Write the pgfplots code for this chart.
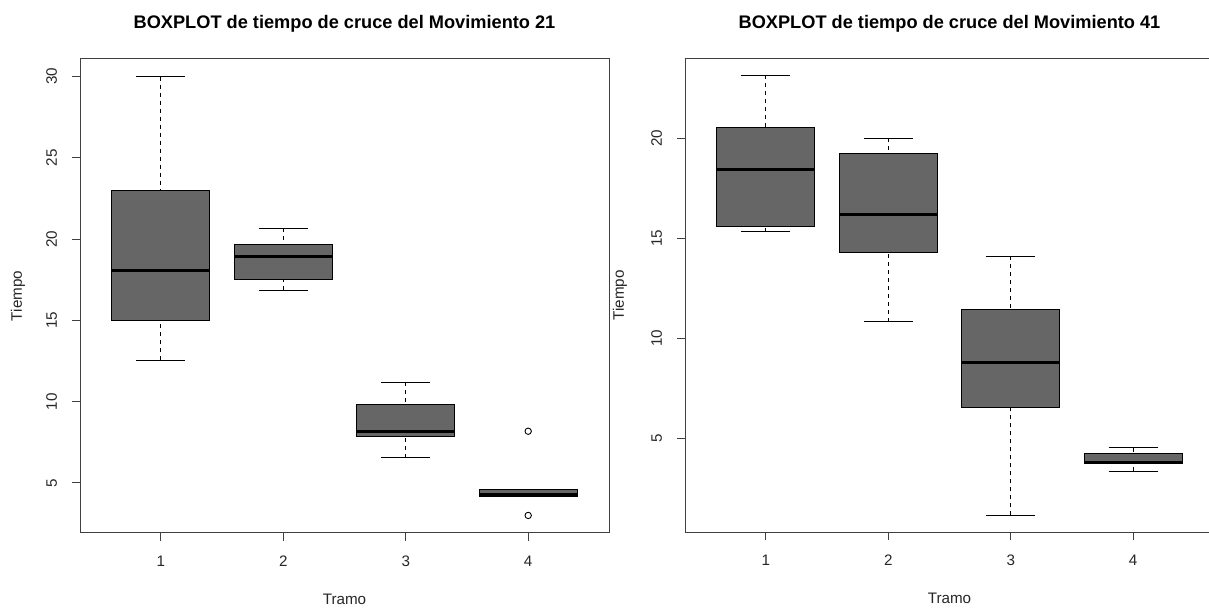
\documentclass[border=0pt]{standalone}
\usepackage{fontspec}
\setmainfont{Liberation Sans}
\usepackage{pgfplots}
\pgfplotsset{compat=1.18}
\usepgfplotslibrary{statistics}
\definecolor{boxgray}{HTML}{666666}
\definecolor{framegray}{HTML}{404040}
\pgfplotsset{
  rbox/.style={
    scale only axis, width=264.5pt, height=237pt,
    xmin=0.34, xmax=4.66,
    xtick={1,2,3,4},
    axis line style={framegray, line width=0.5pt},
    every tick/.style={framegray, line width=0.5pt},
    tick align=outside, major tick length=4pt,
    xtick pos=left, ytick pos=left,
    /pgf/number format/assume math mode=true,
    tick label style={font=\fontsize{7.6}{9}\selectfont, text=black!85},
    yticklabel style={rotate=90, anchor=south},
    xticklabel shift=4pt, yticklabel shift=4pt,
    xlabel style={at={(axis description cs:0.5,-0.1392)}, anchor=center, font=\fontsize{7.6}{9}\selectfont, text=black!85},
    ylabel style={at={(axis description cs:-0.1172,0.5)}, anchor=center, font=\fontsize{7.6}{9}\selectfont, text=black!85},
    title style={font=\bfseries\fontsize{9.1}{11}\selectfont, at={(axis description cs:0.5,1.0485)}, anchor=center, yshift=0pt},
    xlabel={Tramo}, ylabel={Tiempo},
    boxplot/draw direction=y,
    boxplot/every box/.style={fill=boxgray, draw=black, line width=0.5pt},
    boxplot/every median/.style={draw=black, line width=1.5pt},
    boxplot/box extend=0.8,
    boxplot/whisker extend=0.4,
    boxplot/draw/lower whisker/.code={%
      \draw[black, fill=none, line width=0.5pt, dash pattern=on 2pt off 2pt]
        (boxplot cs:\pgfplotsboxplotvalue{lower whisker}) -- (boxplot cs:\pgfplotsboxplotvalue{lower quartile});
      \draw[black, fill=none, line width=0.5pt]
        (boxplot whisker cs:\pgfplotsboxplotvalue{lower whisker},0) -- (boxplot whisker cs:\pgfplotsboxplotvalue{lower whisker},1);
    },
    boxplot/draw/upper whisker/.code={%
      \draw[black, fill=none, line width=0.5pt, dash pattern=on 2pt off 2pt]
        (boxplot cs:\pgfplotsboxplotvalue{upper whisker}) -- (boxplot cs:\pgfplotsboxplotvalue{upper quartile});
      \draw[black, fill=none, line width=0.5pt]
        (boxplot whisker cs:\pgfplotsboxplotvalue{upper whisker},0) -- (boxplot whisker cs:\pgfplotsboxplotvalue{upper whisker},1);
    },
  },
  rplot/.style={draw=black, line width=0.5pt, solid},
}
\begin{document}
\begin{tikzpicture}
\path[use as bounding box] (0,0) rectangle (604.5pt,304.5pt);
\begin{scope}
\clip (0,0) rectangle (604.5pt,304.5pt);
% ---------- left panel ----------
\begin{axis}[rbox, at={(40pt,38pt)}, anchor=south west,
  ymin=1.92, ymax=31.08, ytick={5,10,15,20,25,30},
  title={BOXPLOT de tiempo de cruce del Movimiento 21}]
\addplot[rplot, boxplot prepared={draw position=1, lower whisker=12.54, lower quartile=15.0, median=18.04, upper quartile=22.96, upper whisker=30.0}] coordinates {};
\addplot[rplot, boxplot prepared={draw position=2, lower whisker=16.85, lower quartile=17.5, median=18.96, upper quartile=19.68, upper whisker=20.66}] coordinates {};
\addplot[rplot, boxplot prepared={draw position=3, lower whisker=6.56, lower quartile=7.86, median=8.15, upper quartile=9.82, upper whisker=11.18}] coordinates {};
\addplot[rplot, boxplot prepared={draw position=4, lower whisker=4.17, lower quartile=4.17, median=4.29, upper quartile=4.59, upper whisker=4.59}] coordinates {};
\addplot[only marks, mark=o, mark size=1.6pt, mark options={black, line width=0.45pt}] coordinates {(4,8.18) (4,3.0)};
\end{axis}
% ---------- right panel ----------
\begin{axis}[rbox, at={(342.5pt,38.35pt)}, anchor=south west,
  ymin=0.32, ymax=23.98, ytick={5,10,15,20},
  ylabel style={at={(axis description cs:-0.1229,0.5)}},
  title={BOXPLOT de tiempo de cruce del Movimiento 41}]
\addplot[rplot, boxplot prepared={draw position=1, lower whisker=15.31, lower quartile=15.58, median=18.42, upper quartile=20.53, upper whisker=23.13}] coordinates {};
\addplot[rplot, boxplot prepared={draw position=2, lower whisker=10.83, lower quartile=14.30, median=16.19, upper quartile=19.25, upper whisker=20.0}] coordinates {};
\addplot[rplot, boxplot prepared={draw position=3, lower whisker=1.16, lower quartile=6.54, median=8.8, upper quartile=11.45, upper whisker=14.09}] coordinates {};
\addplot[rplot, boxplot prepared={draw position=4, lower whisker=3.36, lower quartile=3.75, median=3.82, upper quartile=4.25, upper whisker=4.53}] coordinates {};
\end{axis}
\end{scope}
\end{tikzpicture}
\end{document}
